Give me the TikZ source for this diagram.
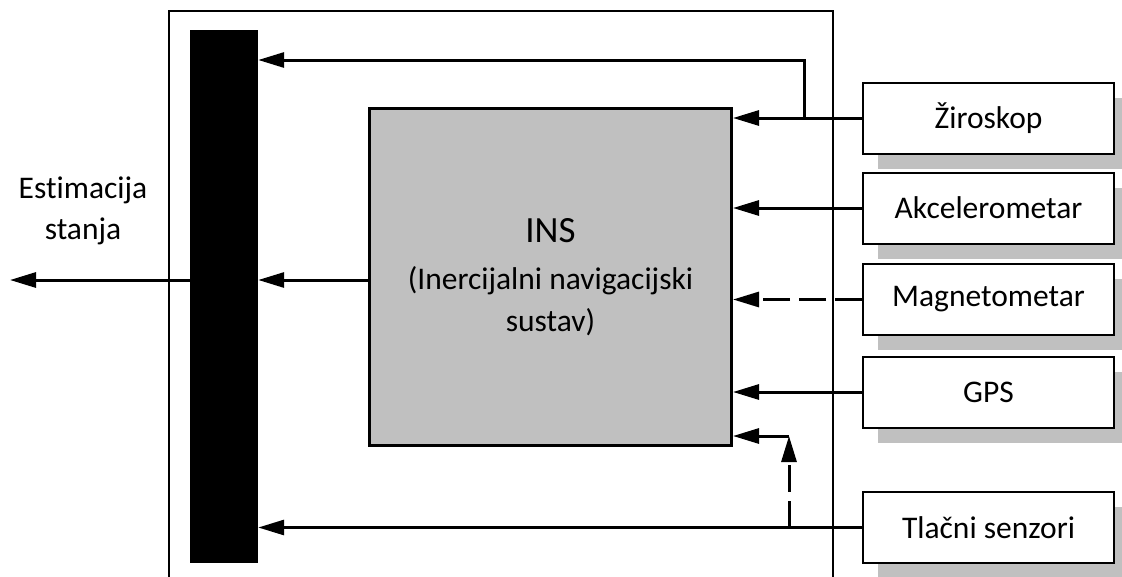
\documentclass[tikz,border=0pt]{standalone}
\usepackage{fontspec}
\setmainfont{Carlito}[Ligatures=NoCommon]
\usepackage{tikz}
\usetikzlibrary{arrows.meta,shadows,positioning,calc}
\definecolor{insgray}{RGB}{192,192,192}

\begin{document}
\begin{tikzpicture}[x=1pt, y=-1pt,
    sensor/.style={rectangle, draw, line width=2pt, fill=white, minimum width=251pt, minimum height=71pt,
        font=\fontsize{31.5}{42}\selectfont,
        general shadow={fill=insgray, shadow xshift=15pt, shadow yshift=-15pt}},
    core/.style={rectangle, draw, line width=3pt, fill=insgray, minimum width=362pt, minimum height=337pt,
        align=center, font=\fontsize{31.5}{42}\selectfont},
    fusion/.style={rectangle, fill=black, minimum width=68pt, minimum height=533pt, inner sep=0pt},
    arrow/.style={-{Triangle[length=26pt, width=15pt]}, line width=3pt},
    dasharrow/.style={arrow, dash pattern=on 27pt off 9pt}
]
\useasboundingbox (0,0) rectangle (1122,576);

% outer frame (runs off the bottom)
\draw[line width=1.8pt] (169,600) -- (169,11) -- (833,11) -- (833,600);

\node[fusion] (bar) at (224,296.5) {};
\node[core] (ins) at (550.5,277)
    {{\fontsize{37}{42}\selectfont INS}\\[5pt](Inercijalni navigacijski\\sustav)};

\node[sensor] (gyro) at (988.5,118) {Žiroskop};
\node[sensor] (acc) at (988.5,208) {Akcelerometar};
\node[sensor] (mag) at (988.5,299.5) {Magnetometar};
\node[sensor] (gps) at (988.5,392) {GPS};
\node[sensor] (press) at (988.5,527.5) {Tlačni senzori};

\node[align=center, font=\fontsize{31.5}{41}\selectfont] (est) at (83,211) {Estimacija\\stanja};
\coordinate (out) at (10,280);

\coordinate (gb) at (804,0 |- gyro.west);
\coordinate (gtop) at (804,60);
\coordinate (pb) at (789,0 |- press.west);
\coordinate (ptop) at (789,436);

\draw[arrow] (gyro.west) -- (ins.east |- gyro.west);
\draw[arrow] (gb) -- (gtop) -- (bar.east |- gtop);
\draw[arrow] (acc.west) -- (ins.east |- acc.west);
\draw[dasharrow] (mag.west) -- (ins.east |- mag.west);
\draw[arrow] (gps.west) -- (ins.east |- gps.west);
\draw[arrow] (press.west) -- (bar.east |- press.west);
\draw[dasharrow] (pb) -- (ptop);
\draw[arrow] (ptop) -- (ins.east |- ptop);

\draw[arrow] (ins.west |- out) -- (bar.east |- out);
\draw[arrow] (bar.west |- out) -- (out);

\end{tikzpicture}
\end{document}
